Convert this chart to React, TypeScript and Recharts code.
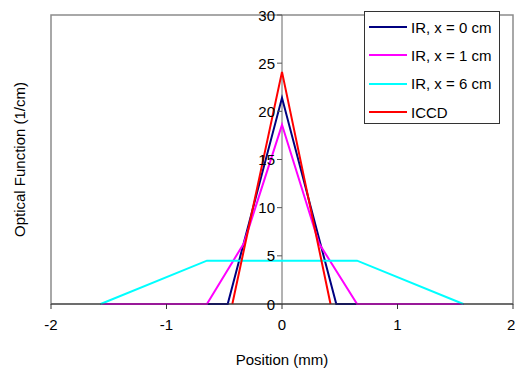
import {
  LineChart,
  Line,
  XAxis,
  YAxis,
  ReferenceLine,
  ReferenceArea,
  ReferenceDot,
  Legend,
} from 'recharts'

// positions (mm) and optical function values (1/cm) for each profile
const irX0Pos = [-1.57, -0.65, -0.47, 0, 0.47, 0.65, 1.57]
const irX0Val = [0, 0, 0, 21.4, 0, 0, 0]
const irX1Pos = [-1.57, -0.65, -0.33, 0, 0.32, 0.65, 1.57]
const irX1Val = [0, 0, 6.3, 18.6, 6.3, 0, 0]
const irX6Pos = [-1.57, -0.65, 0.65, 1.57]
const irX6Val = [0, 4.5, 4.5, 0]
const iccdPos = [-0.43, 0, 0.42]
const iccdVal = [0, 24.1, 0]

const xTicks = [-2, -1, 0, 1, 2]
const yTicks = [0, 5, 10, 15, 20, 25, 30]

const toPoints = (xs: number[], ys: number[]) => xs.map((x, i) => ({ x, y: ys[i] }))

const series = [
  { name: 'IR, x = 0 cm', color: '#000080', data: toPoints(irX0Pos, irX0Val) },
  { name: 'IR, x = 1 cm', color: '#ff00ff', data: toPoints(irX1Pos, irX1Val) },
  { name: 'IR, x = 6 cm', color: '#00ffff', data: toPoints(irX6Pos, irX6Val) },
  { name: 'ICCD', color: '#ff0000', data: toPoints(iccdPos, iccdVal) },
]

const FONT = '"Liberation Sans", Arial, sans-serif'
const FS = 15

function LegendBox() {
  return (
    <div
      style={{
        width: 134,
        height: 110,
        border: '1px solid #333',
        background: '#fff',
        fontFamily: FONT,
        fontSize: FS,
        color: '#000',
        paddingTop: 1,
        whiteSpace: 'nowrap',
      }}
    >
      {series.map((s) => (
        <div key={s.name} style={{ display: 'flex', alignItems: 'center', height: 28.3 }}>
          <span style={{ display: 'inline-block', width: 38, height: 2, background: s.color, marginLeft: 4, marginRight: 4 }} />
          <span>{s.name}</span>
        </div>
      ))}
    </div>
  )
}

// tick mark + label drawn on the y axis that sits at x = 0
function YTick(props: any) {
  const { cx, cy, value } = props
  return (
    <g>
      <line x1={cx - 5} y1={cy} x2={cx} y2={cy} stroke="#555" />
      <text x={cx - 7} y={cy} textAnchor="end" dominantBaseline="central" fontFamily={FONT} fontSize={FS} fill="#000">
        {value}
      </text>
    </g>
  )
}

export default function App() {
  return (
    <div style={{ position: 'absolute', left: 0, top: 0, background: '#fff' }}>
      <LineChart width={515} height={369} margin={{ top: 15, right: 2, bottom: 0, left: 0 }}>
        <XAxis
          dataKey="x"
          type="number"
          domain={[-2, 2]}
          ticks={xTicks}
          allowDataOverflow
          height={65}
          stroke="#333"
          tickSize={5}
          tickMargin={10}
          tick={{ fill: '#000', fontSize: FS, fontFamily: FONT }}
          label={{ value: 'Position (mm)', position: 'insideBottom', offset: 4, fill: '#000', fontSize: FS, fontFamily: FONT }}
        />
        <YAxis
          type="number"
          domain={[0, 30]}
          ticks={yTicks}
          width={51}
          axisLine={false}
          tickLine={false}
          tick={false}
          label={{ value: 'Optical Function (1/cm)', angle: -90, position: 'insideLeft', offset: 20, textAnchor: 'middle', fill: '#000', fontSize: FS, fontFamily: FONT }}
        />
        <ReferenceArea x1={-2} x2={2} y1={0} y2={30} fill="none" stroke="#8c8c8c" strokeWidth={1.5} />
        <ReferenceLine x={0} stroke="#666" />
        {yTicks.map((v) => (
          <ReferenceDot key={v} x={0} y={v} r={0} shape={(p: any) => <YTick {...p} value={v} />} />
        ))}
        {series.map((s) => (
          <Line
            key={s.name}
            data={s.data}
            dataKey="y"
            name={s.name}
            type="linear"
            stroke={s.color}
            strokeWidth={2}
            dot={false}
            isAnimationActive={false}
          />
        ))}
        <Legend
          layout="vertical"
          align="center"
          verticalAlign="middle"
          content={() => <LegendBox />}
          wrapperStyle={{ left: 364, top: 11, width: 136, height: 112 }}
        />
      </LineChart>
    </div>
  )
}
